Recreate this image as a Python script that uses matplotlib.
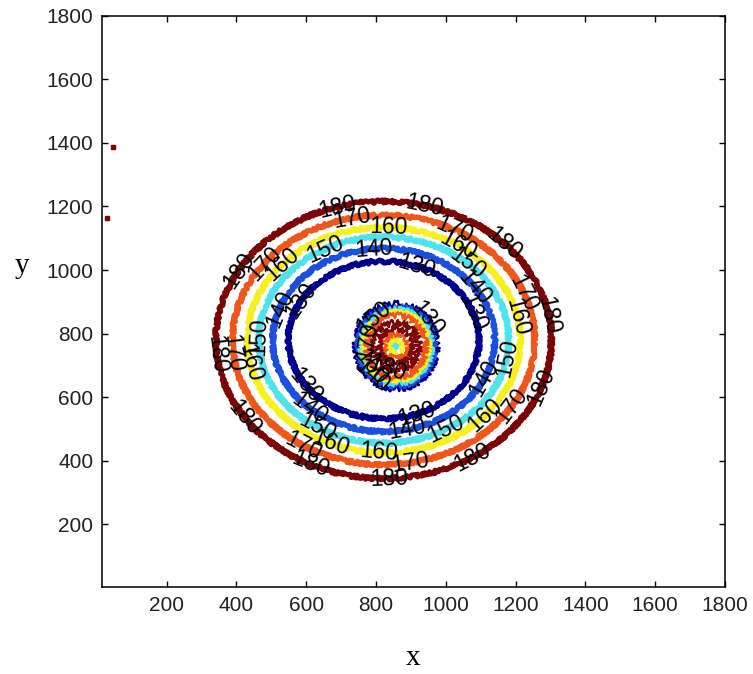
import numpy as np
import matplotlib
matplotlib.use("Agg")
import matplotlib.pyplot as plt
from matplotlib.colors import ListedColormap, BoundaryNorm

# ---- data ----
levels = [130, 140, 150, 160, 170, 180]
ring_rx = [274, 318, 358, 391, 433, 480]          # x half-width of each contour ring
ring_center = (822, 780)
ring_aspect = 0.906                                 # ry / rx
inner_value = 118                                   # field level inside the 130 ring
outer_value = 195                                   # field level far outside the 180 ring

blob_center = (858, 760)
blob_aspect = 1.15
blob_radii = [0, 55, 85, 120, 150]
blob_values = [145, 185, 170, 125, 110]

spot_x = [46, 29]
spot_y = [1387, 1163]

label_angles = {
    130: [70, 150, 215, 290, 20],
    140: [95, 160, 228, 282, 335, 35],
    150: [118, 178, 238, 300, 350, 48],
    160: [88, 138, 192, 247, 268, 318, 12, 57],
    170: [102, 142, 186, 238, 280, 328, 22, 62],
    180: [76, 106, 150, 186, 214, 244, 272, 302, 340, 10, 44],
}

xticks = [200, 400, 600, 800, 1000, 1200, 1400, 1600, 1800]
yticks = [200, 400, 600, 800, 1000, 1200, 1400, 1600, 1800]

level_colors = ["#00008c", "#1a4fe0", "#4fe3ec", "#f6f01e", "#f0561a", "#7c0606"]
cmap = ListedColormap(level_colors)
norm = BoundaryNorm([125, 135, 145, 155, 165, 175, 185], cmap.N)

# ---- field built from ring geometry ----
xs = np.arange(14, 1801, 4.0)
ys = np.arange(2, 1801, 4.0)
X, Y = np.meshgrid(xs, ys)

r_ring = np.hypot(X - ring_center[0], (Y - ring_center[1]) / ring_aspect)
prof_r = [0] + ring_rx + [ring_rx[-1] + 250]
prof_v = [inner_value] + levels + [outer_value]
ring_field = np.interp(r_ring, prof_r, prof_v)

r_blob = np.hypot(X - blob_center[0], (Y - blob_center[1]) / blob_aspect)
blob_field = np.interp(r_blob, blob_radii, blob_values)

fig = plt.figure(figsize=(7.53, 6.74), dpi=100)
ax = fig.add_axes([101.7 / 753, 1 - 587.3 / 674, (725 - 101.7) / 753, (587.3 - 15.7) / 674])

cs = ax.contour(X, Y, ring_field, levels=levels, cmap=cmap, norm=norm,
                linewidths=3.6)
cs.set_sketch_params(1.6, 1.5, 2.0)
cb = ax.contour(X, Y, blob_field, levels=levels, cmap=cmap, norm=norm,
                linewidths=1.8)
cb.set_sketch_params(3.0, 3.0, 3.0)

positions = []
for lev, rx in zip(levels, ring_rx):
    for a in label_angles[lev]:
        t = np.deg2rad(a)
        positions.append((ring_center[0] + rx * np.cos(t),
                          ring_center[1] + ring_aspect * rx * np.sin(t)))

txts = ax.clabel(cs, levels, inline=False, fontsize=15, colors="k", fmt="%d",
                 manual=positions)
txts2 = ax.clabel(cb, levels, inline=False, fontsize=15, colors="k", fmt="%d")
for t in list(txts) + list(txts2):
    t.set_fontfamily(["Liberation Sans", "DejaVu Sans"])
    t.set_fontsize(16.5)

ax.plot(spot_x, spot_y, ls="none", marker="s", ms=2.5, color=level_colors[-1])

ax.set_xlim(14, 1800)
ax.set_ylim(2, 1800)
ax.set_xticks(xticks)
ax.set_yticks(yticks)
ax.tick_params(direction="in", length=4, width=1, top=True, right=True,
               labelsize=15, labelcolor="#222222", pad=6)
for lab in ax.get_xticklabels() + ax.get_yticklabels():
    lab.set_fontfamily(["Liberation Sans", "DejaVu Sans"])
for s in ax.spines.values():
    s.set_linewidth(1.1)

ax.set_xlabel("x", fontsize=21, family=["Liberation Serif", "DejaVu Serif"])
ax.xaxis.label.set_va("center")
ax.xaxis.set_label_coords(0.5, (587.3 - 658) / 571.6)
ax.set_ylabel("y", fontsize=21, family=["Liberation Serif", "DejaVu Serif"],
              rotation=0)
ax.yaxis.label.set_va("center")
ax.yaxis.label.set_ha("center")
ax.yaxis.set_label_coords((22 - 101.7) / 623.3, (587.3 - 266) / 571.6)

fig.savefig("out.png", dpi=100)
